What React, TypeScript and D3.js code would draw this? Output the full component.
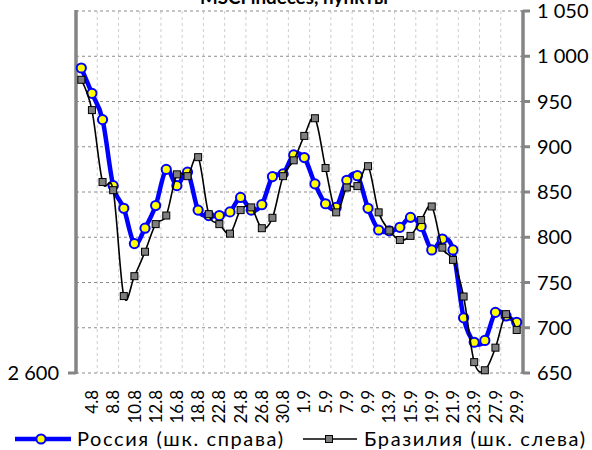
import React from "react";
import * as d3 from "d3";

const dates = [
  "3.8", "4.8", "5.8", "8.8", "9.8", "10.8", "11.8", "12.8", "15.8", "16.8",
  "17.8", "18.8", "19.8", "22.8", "23.8", "24.8", "25.8", "26.8", "29.8", "30.8",
  "31.8", "1.9", "2.9", "5.9", "6.9", "7.9", "8.9", "9.9", "12.9", "13.9",
  "14.9", "15.9", "16.9", "19.9", "20.9", "21.9", "22.9", "23.9", "26.9", "27.9",
  "28.9", "29.9",
];

const russia = [
  987, 959, 930, 857, 832, 793, 810, 835, 875, 857,
  872, 830, 824, 824, 828, 844, 830, 836, 867, 870,
  891, 888, 859, 837, 833, 863, 868, 832, 808, 807,
  811, 822, 812, 786, 798, 786, 711, 684, 686, 717,
  713, 706,
];

const brazil = [
  3248, 3181, 3022, 3004, 2770, 2814, 2868, 2929, 2948, 3039,
  3035, 3077, 2951, 2929, 2908, 2960, 2966, 2920, 2943, 3035,
  3070, 3124, 3163, 3053, 2955, 3010, 3013, 3057, 2955, 2915,
  2894, 2903, 2938, 2968, 2877, 2850, 2769, 2624, 2606, 2656,
  2730, 2695,
];

const rightTicks = [650, 700, 750, 800, 850, 900, 950, 1000, 1050];
const leftTicks = [2600];

const title = "MSCI indeces, пункты";
const legendRussia = "Россия (шк. справа)";
const legendBrazil = "Бразилия (шк. слева)";

const fmt = (v: number) => {
  const s = String(v);
  return s.length > 3 ? s.slice(0, s.length - 3) + " " + s.slice(-3) : s;
};

export default function App() {
  const W = 592, H = 450;
  const L = 76, R = 522, T = 11, B = 373;
  const font = "Lato, 'Open Sans', sans-serif";

  const x = d3.scaleBand<string>().domain(dates).range([L, R]).padding(0);
  const bw = x.bandwidth();
  const cx = (d: string) => (x(d) as number) + bw / 2;
  const yR = d3.scaleLinear().domain([650, 1050]).range([B, T]);
  const yL = d3.scaleLinear().domain([2600, 3400]).range([B, T]);

  const curve = d3.curveCardinal.tension(0);
  const lineR = d3.line<number>().x((_, i) => cx(dates[i])).y((v) => yR(v)).curve(curve);
  const lineB = d3.line<number>().x((_, i) => cx(dates[i])).y((v) => yL(v)).curve(curve);

  const vgrid: number[] = [];
  for (let k = 2; k < dates.length; k += 2) vgrid.push(L + k * bw);

  return (
    <svg width={W} height={H} style={{ position: "absolute", left: 0, top: 0, background: "#fff" }}>
      <rect x={0} y={0} width={W} height={H} fill="#fff" />
      {/* title (cut off at top, as in the reference) */}
      <text x={294} y={4} textAnchor="middle" fontFamily={font} fontWeight="bold" fontSize={19}
        textLength={188} lengthAdjust="spacingAndGlyphs">{title}</text>

      {/* vertical gridlines */}
      {vgrid.map((gx, i) => (
        <line key={"v" + i} x1={gx} x2={gx} y1={T} y2={B} stroke="#cfcfcf" strokeWidth={1} strokeDasharray="3,3" />
      ))}
      {/* horizontal gridlines */}
      {rightTicks.map((t) => (
        <line key={"h" + t} x1={L} x2={R} y1={yR(t)} y2={yR(t)} stroke="#8c8c8c" strokeWidth={1} strokeDasharray="3,3" />
      ))}

      {/* left axis */}
      <line x1={L} x2={L} y1={T - 1} y2={B + 1} stroke="#858585" strokeWidth={3.5} />
      {leftTicks.map((t) => (
        <g key={"l" + t}>
          <line x1={L - 8} x2={L} y1={yL(t)} y2={yL(t)} stroke="#858585" strokeWidth={3} />
          <text x={59} y={yL(t)} dy="0.36em" textAnchor="end" fontFamily={font} fontSize={20} fill="#000">{fmt(t)}</text>
        </g>
      ))}

      {/* right axis */}
      <line x1={R + 1} x2={R + 1} y1={T - 1} y2={B + 1} stroke="#858585" strokeWidth={3.5} />
      {rightTicks.map((t) => (
        <g key={"r" + t}>
          <line x1={R + 1} x2={R + 8} y1={yR(t)} y2={yR(t)} stroke="#858585" strokeWidth={3} />
          <text x={537} y={yR(t)} dy="0.36em" textAnchor="start" fontFamily={font} fontSize={20} fill="#000">{fmt(t)}</text>
        </g>
      ))}

      {/* x labels */}
      {dates.map((d, i) =>
        i % 2 === 1 ? (
          <text key={"x" + d} transform={`translate(${cx(d)},${390}) rotate(-90)`} dy="0.36em" textAnchor="end"
            fontFamily={font} fontSize={17} fill="#000">{d}</text>
        ) : null
      )}

      {/* Russia series */}
      <path d={lineR(russia) || ""} fill="none" stroke="#0000ff" strokeWidth={4.5} strokeLinejoin="round" />
      {russia.map((v, i) => (
        <circle key={"rc" + i} cx={cx(dates[i])} cy={yR(v)} r={4.6} fill="#ffff00" stroke="#0000ff" strokeWidth={2} />
      ))}

      {/* Brazil series */}
      <path d={lineB(brazil) || ""} fill="none" stroke="#000" strokeWidth={1.6} />
      {brazil.map((v, i) => (
        <rect key={"bs" + i} x={cx(dates[i]) - 3.5} y={yL(v) - 3.5} width={7} height={7} fill="#7f7f7f" stroke="#000" strokeWidth={1} />
      ))}

      {/* legend */}
      <line x1={15} x2={71} y1={439} y2={439} stroke="#0000ff" strokeWidth={4.5} />
      <circle cx={41} cy={439} r={4.6} fill="#ffff00" stroke="#0000ff" strokeWidth={2} />
      <text x={77} y={446} fontFamily={font} fontSize={20} textLength={206} lengthAdjust="spacing">{legendRussia}</text>

      <line x1={303} x2={357} y1={439} y2={439} stroke="#000" strokeWidth={1.6} />
      <rect x={329 - 3.5} y={439 - 3.5} width={7} height={7} fill="#7f7f7f" stroke="#000" strokeWidth={1} />
      <text x={364} y={446} fontFamily={font} fontSize={20} textLength={221} lengthAdjust="spacing">{legendBrazil}</text>
    </svg>
  );
}
